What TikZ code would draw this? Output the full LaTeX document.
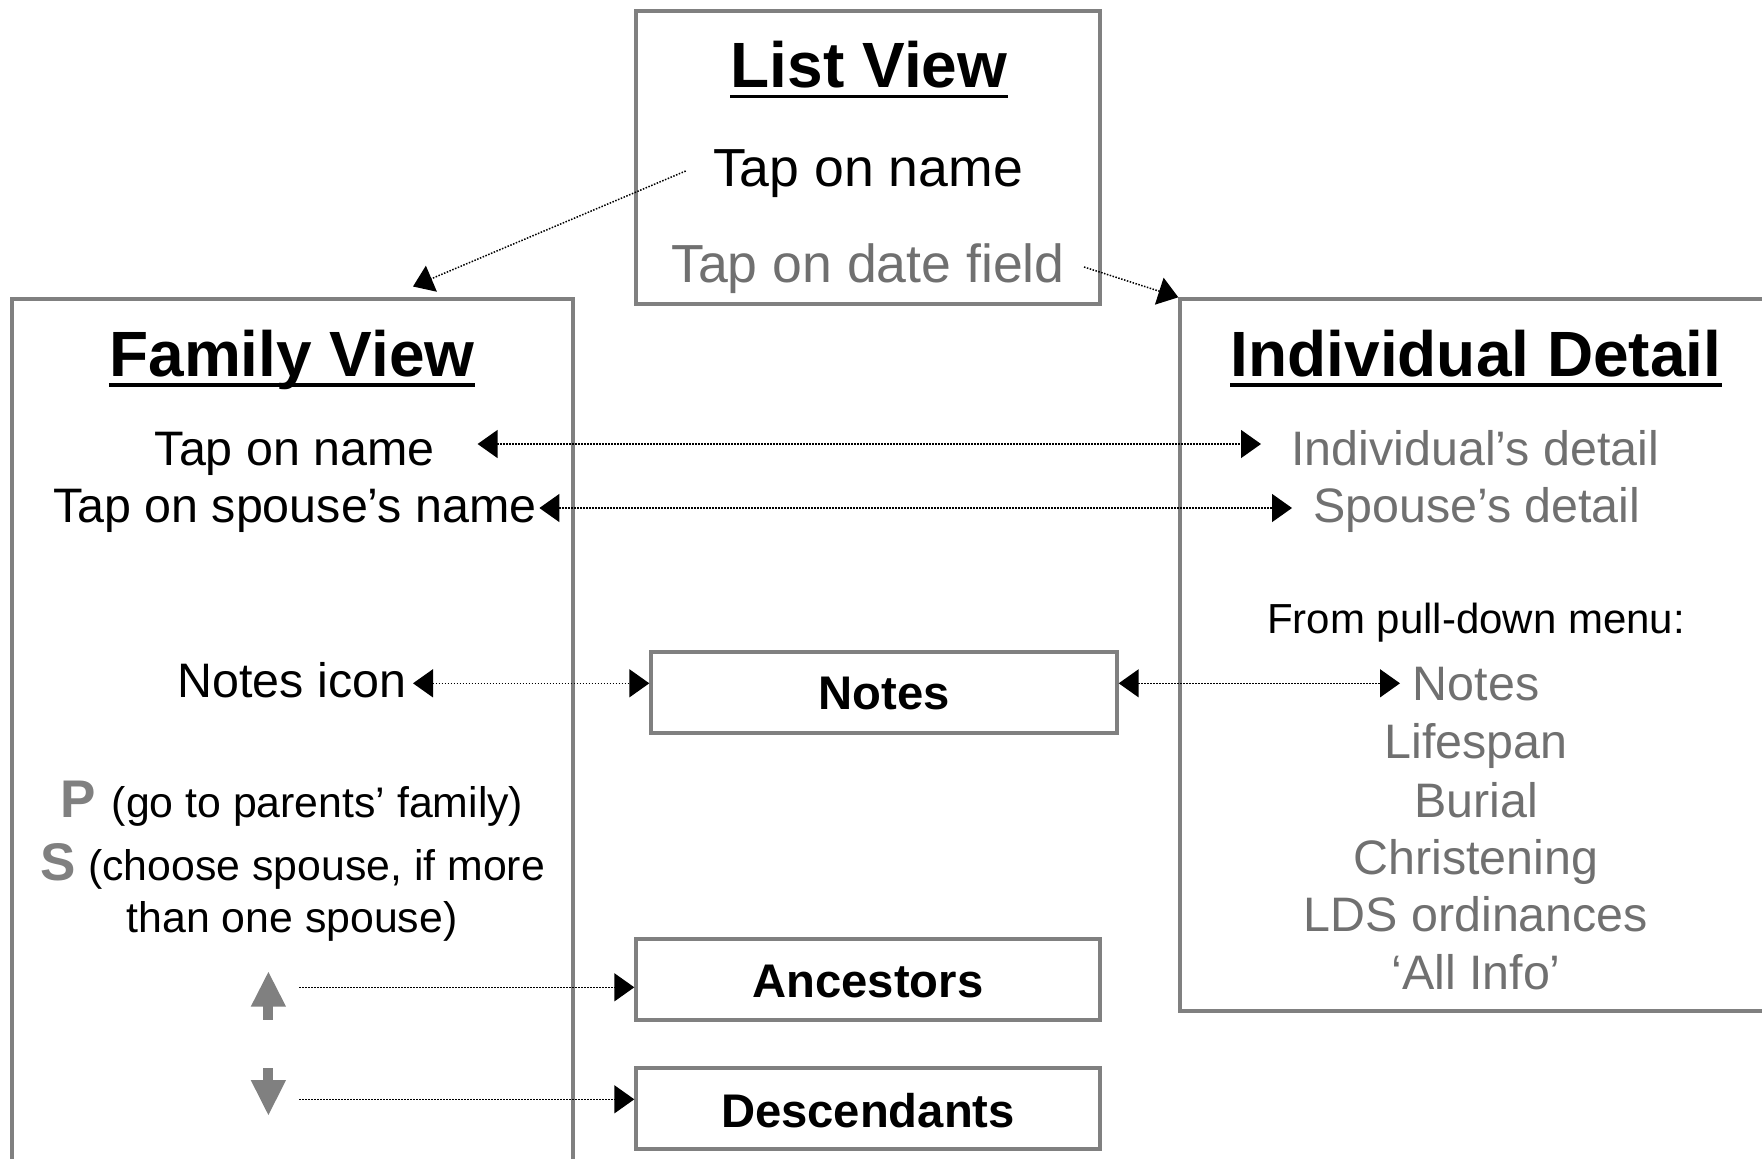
\documentclass[tikz,border=0pt]{standalone}
\usepackage{fontspec}
\setmainfont{Liberation Sans}
\usetikzlibrary{arrows.meta,calc,fit}
\definecolor{boxgray}{HTML}{808080}
\definecolor{txtgray}{HTML}{707070}
\begin{document}
\begin{tikzpicture}[x=0.5pt,y=-0.5pt,
  box/.style={draw=boxgray, line width=1.7pt, inner sep=0pt},
  tip/.tip={Triangle[length=10pt,width=14pt]},
  conn/.style={line width=0.75pt, dash pattern=on 0.75pt off 0.75pt, -tip},
  both/.style={line width=0.75pt, dash pattern=on 0.75pt off 0.75pt, tip-tip},
  hd/.style={inner sep=0pt, font=\fontsize{32}{38}\selectfont\bfseries},
  big/.style={inner sep=0pt, font=\fontsize{26.8}{32}\selectfont},
  txt/.style={inner sep=0pt, font=\fontsize{24.2}{28}\selectfont},
  sm/.style={inner sep=0pt, font=\fontsize{21.4}{26}\selectfont},
  lbl/.style={font=\fontsize{23.6}{28}\selectfont\bfseries},
  ul/.style={line width=1.7pt},
  icon/.style={fill=boxgray, draw=none}
]
\useasboundingbox (0,0) rectangle (1762,1158);
\clip (0,0) rectangle (1762,1158);

% boxes
\node[box, fit={(636,11) (1100,304)}] (lv) {};
\node[box, fit={(12,299) (573,1180)}] (fv) {};
\node[box, fit={(1180,299) (1780,1011)}] (idb) {};
\node[box, fit={(651,652) (1117,733)}] (notes) {};
\node[lbl, inner sep=0pt] (notest) at ($(notes.center)+(0,1)$) {Notes};
\node[box, fit={(636,939) (1100,1020)}] (anc) {};
\node[lbl, inner sep=0pt] (anct) at ($(anc.center)+(0,2)$) {Ancestors};
\node[box, fit={(636,1068) (1100,1149)}] (desc) {};
\node[lbl, inner sep=0pt] (desct) at ($(desc.center)+(0,2)$) {Descendants};

% List View
\node[hd, anchor=base] (lvt) at (869,87.6) {List View};
\draw[ul] ($(lvt.base west)+(0,9)$) -- ($(lvt.base east)+(0,9)$);
\node[big, anchor=base] (lvname) at (868,186.5) {Tap on name};
\node[big, anchor=base, text=txtgray] (lvdate) at (868,282) {Tap on date field};

% Family View
\node[hd, anchor=base] (fvt) at (292,376) {Family View};
\draw[ul] ($(fvt.base west)+(0,9)$) -- ($(fvt.base east)+(0,9)$);
\node[txt, anchor=base east] (fvname) at (435,465) {Tap on name};
\node[txt, anchor=base east] (fvspouse) at (537,522.5) {Tap on spouse’s name};
\node[txt, anchor=base east] (fvnotes) at (406.5,697) {Notes icon};
\node[sm, anchor=base west] (pline) at (60,817) {{\fontsize{26.5}{30}\selectfont\bfseries\color{boxgray}P}\hspace{8pt}(go to parents’ family)};
\node[sm, anchor=base west] (sline) at (40.5,880) {{\fontsize{26.5}{30}\selectfont\bfseries\color{boxgray}S}\hspace{6pt}(choose spouse, if more};
\node[sm, anchor=base] (sline2) at (292,932.7) {than one spouse)};

% up / down icons
\fill[icon] (250.7,1006.7) -- (268.4,972) -- (286.1,1006.7) -- cycle;
\fill[icon] (263.4,1006) rectangle (273.4,1019.5);
\fill[icon] (263.4,1067.5) rectangle (273.4,1081);
\fill[icon] (250.7,1080) -- (286.1,1080) -- (268.4,1115) -- cycle;
\coordinate (upc) at (299,987.3);
\coordinate (dnc) at (299,1099.3);

% Individual Detail
\node[hd, anchor=base] (idt) at (1476,376) {Individual Detail};
\draw[ul] ($(idt.base west)+(0,9)$) -- ($(idt.base east)+(0,9)$);
\node[txt, anchor=base west, text=txtgray] (idind) at (1291,465) {Individual’s detail};
\node[txt, anchor=base west, text=txtgray] (idsp) at (1312.6,522.5) {Spouse’s detail};
\node[sm, anchor=base, font=\fontsize{21}{26}\selectfont] (idfrom) at (1476,633) {From pull-down menu:};
\node[txt, anchor=base, text=txtgray] (idnotes) at (1476,700) {Notes};
\node[txt, anchor=base, text=txtgray] (idlife) at (1476,758.5) {Lifespan};
\node[txt, anchor=base, text=txtgray] (idbur) at (1476,817) {Burial};
\node[txt, anchor=base, text=txtgray] (idchr) at (1476,874) {Christening};
\node[txt, anchor=base, text=txtgray] (idlds) at (1476,931.5) {LDS ordinances};
\node[txt, anchor=base, text=txtgray] (idall) at (1476,989) {‘All Info’};

% connectors
\coordinate (d1s) at (685.7,171);
\coordinate (d1e) at (413,286.5);
\draw[conn] (d1s) -- (d1e);
\coordinate (d2s) at (1084,267);
\draw[conn] (d2s) -- (idb.north west);

\coordinate (r1l) at (477.6,444);
\coordinate (r1r) at (1261,444);
\draw[both] (r1l) -- (r1r);
\coordinate (r2l) at (539.4,508);
\coordinate (r2r) at (1292,508);
\draw[both] (r2l) -- (r2r);
\coordinate (r3l) at (413,683.3);
\draw[both] (r3l) -- (r3l -| notes.west);
\coordinate (r3r) at (1400,683.3);
\draw[both] (r3r -| notes.east) -- (r3r);
\draw[conn] (upc) -- (upc -| anc.west);
\draw[conn] (dnc) -- (dnc -| desc.west);
\end{tikzpicture}
\end{document}
